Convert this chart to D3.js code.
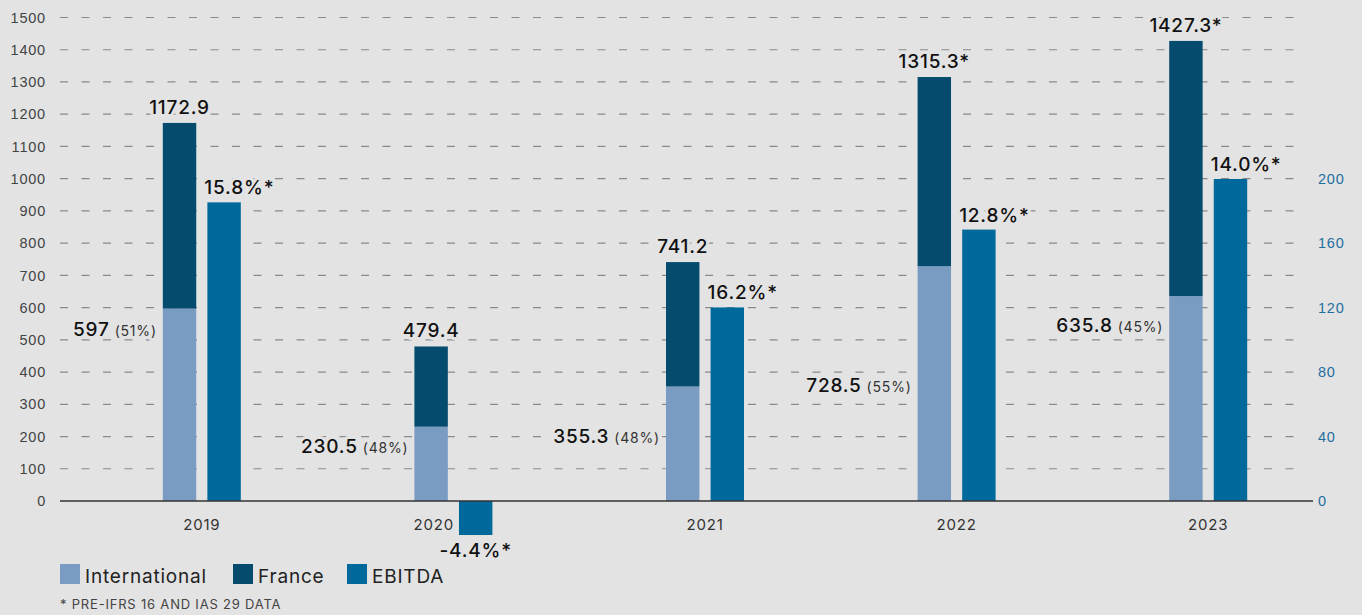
<!DOCTYPE html>
<html>
<head>
<meta charset="utf-8">
<script src="https://cdn.jsdelivr.net/npm/d3@7"></script>
<style>
  html, body { margin: 0; padding: 0; background: #e3e3e3; }
  svg { display: block; font-family: Inter, 'Open Sans', sans-serif; letter-spacing: 0.05em; }
</style>
</head>
<body>
<div id="chart"></div>
<script>
// data
const years = ['2019', '2020', '2021', '2022', '2023']
const international = [597, 230.5, 355.3, 728.5, 635.8]
const totals = [1172.9, 479.4, 741.2, 1315.3, 1427.3]
const intShare = [51, 48, 48, 55, 45]
const totalStar = [false, false, false, true, true]
const ebitda = [185.3, -21.1, 120.1, 168.4, 199.8]
const ebitdaMargin = ['15.8', '-4.4', '16.2', '12.8', '14.0']
const leftTicks = d3.range(0, 1501, 100)
const rightTicks = [0, 40, 80, 120, 160, 200]

const W = 1362, H = 615
const colors = { int: '#7a9cc2', fr: '#054b6d', eb: '#00699b' }
const bg = '#e3e3e3'

const svg = d3.select('#chart').append('svg').attr('width', W).attr('height', H)

const y = d3.scaleLinear().domain([0, 1500]).range([501, 17.5])
const yR = d3.scaleLinear().domain([0, 300]).range([501, 17.5])
const x = d3.scaleBand().domain(years).range([76, 1334])
const x1 = d3.scaleBand().domain(['stack', 'ebitda']).range([-39, 39]).paddingInner(0.25)

/* grid */
svg.append('g')
  .selectAll('line')
  .data(leftTicks.slice(1))
  .enter()
  .append('line')
  .attr('x1', 60)
  .attr('x2', 1306)
  .attr('y1', d => y(d))
  .attr('y2', d => y(d))
  .attr('stroke', '#8a8a8a')
  .attr('stroke-width', 1.2)
  .attr('stroke-dasharray', '8,13.5')

/* left axis */
const leftAxis = d3.axisLeft(y).tickValues(leftTicks).tickFormat(d3.format('d')).tickSize(0).tickPadding(0)
const gl = svg.append('g').attr('transform', 'translate(46,0)').call(leftAxis)
gl.select('.domain').remove()
gl.selectAll('text').attr('font-size', 14.5).attr('fill', '#444').attr('font-family', null)

/* right axis */
const rightAxis = d3.axisRight(yR).tickValues(rightTicks).tickFormat(d3.format('d')).tickSize(0).tickPadding(0)
const gr = svg.append('g').attr('transform', 'translate(1318,0)').call(rightAxis)
gr.select('.domain').remove()
gr.selectAll('text').attr('font-size', 14.5).attr('fill', '#1f6f9e').attr('font-family', null)

const groups = svg.selectAll('.year')
  .data(years.map((yr, i) => ({ yr, i })))
  .enter()
  .append('g')
  .attr('class', 'year')
  .attr('transform', d => 'translate(' + (x(d.yr) + x.bandwidth() / 2) + ',0)')

const bw = x1.bandwidth()

// halo in the background colour so labels cut through the dashed grid
const knock = sel => sel
  .attr('stroke', bg).attr('stroke-width', 6)
  .attr('stroke-linejoin', 'round').attr('paint-order', 'stroke')

// international
groups.append('rect')
  .attr('x', x1('stack'))
  .attr('width', bw)
  .attr('y', d => y(international[d.i]))
  .attr('height', d => y(0) - y(international[d.i]))
  .attr('fill', colors.int)
// france
groups.append('rect')
  .attr('x', x1('stack'))
  .attr('width', bw)
  .attr('y', d => y(totals[d.i]))
  .attr('height', d => y(international[d.i]) - y(totals[d.i]))
  .attr('fill', colors.fr)
// ebitda
groups.append('rect')
  .attr('x', x1('ebitda'))
  .attr('width', bw)
  .attr('y', d => yR(Math.max(0, ebitda[d.i])))
  .attr('height', d => Math.abs(yR(0) - yR(ebitda[d.i])))
  .attr('fill', colors.eb)

/* baseline */
svg.append('line')
  .attr('x1', 60).attr('x2', 1313)
  .attr('y1', y(0)).attr('y2', y(0))
  .attr('stroke', '#333').attr('stroke-width', 1.5)

// totals
groups.append('text')
  .attr('x', x1('stack') + bw / 2)
  .attr('y', d => y(totals[d.i]) - 9)
  .attr('text-anchor', 'middle')
  .attr('font-size', 19)
  .attr('font-weight', 500)
  .attr('fill', '#111')
  .text(d => totals[d.i].toFixed(1) + (totalStar[d.i] ? '*' : ''))
  .call(knock)

// international labels (hand placed in the original)
const intLabelShift = [27, 26, 57, 126, 36]
const il = groups.append('text')
  .attr('x', x1('stack') - 6)
  .attr('y', d => y(international[d.i]) + intLabelShift[d.i])
  .attr('text-anchor', 'end')
  .attr('fill', '#111')
  .call(knock)
il.append('tspan').attr('font-size', 19).attr('font-weight', 500).text(d => String(international[d.i]))
il.append('tspan').attr('font-size', 14).attr('fill', '#333').attr('dx', 5).text(d => '(' + intShare[d.i] + '%)')

// ebitda margin labels
groups.append('text')
  .attr('x', d => ebitda[d.i] < 0 ? x1('ebitda') + bw / 2 : x1('ebitda') - 3)
  .attr('y', d => ebitda[d.i] < 0 ? yR(ebitda[d.i]) + 22 : yR(ebitda[d.i]) - 8)
  .attr('text-anchor', d => ebitda[d.i] < 0 ? 'middle' : 'start')
  .attr('font-size', 19)
  .attr('font-weight', 500)
  .attr('fill', '#111')
  .text(d => ebitdaMargin[d.i] + '%*')
  .call(knock)

// year labels
groups.append('text')
  .attr('x', d => ebitda[d.i] < 0 ? x1('ebitda') - 5 : 0)
  .attr('y', 530)
  .attr('text-anchor', d => ebitda[d.i] < 0 ? 'end' : 'middle')
  .attr('font-size', 15)
  .attr('fill', '#333')
  .text(d => d.yr)

/* legend */
const legendItems = [
  { name: 'International', c: colors.int, x: 60 },
  { name: 'France', c: colors.fr, x: 233 },
  { name: 'EBITDA', c: colors.eb, x: 347 }
]
const lg = svg.selectAll('.lg').data(legendItems).enter().append('g').attr('class', 'lg')
lg.append('rect').attr('x', d => d.x).attr('y', 564).attr('width', 20).attr('height', 20).attr('fill', d => d.c)
lg.append('text')
  .attr('x', d => d.x + 25)
  .attr('y', 583)
  .attr('font-size', 19)
  .attr('fill', '#222')
  .text(d => d.name)

svg.append('text')
  .attr('x', 60)
  .attr('y', 609)
  .attr('font-size', 13)
  .attr('fill', '#444')
  .text('* PRE-IFRS 16 AND IAS 29 DATA')
</script>
</body>
</html>
